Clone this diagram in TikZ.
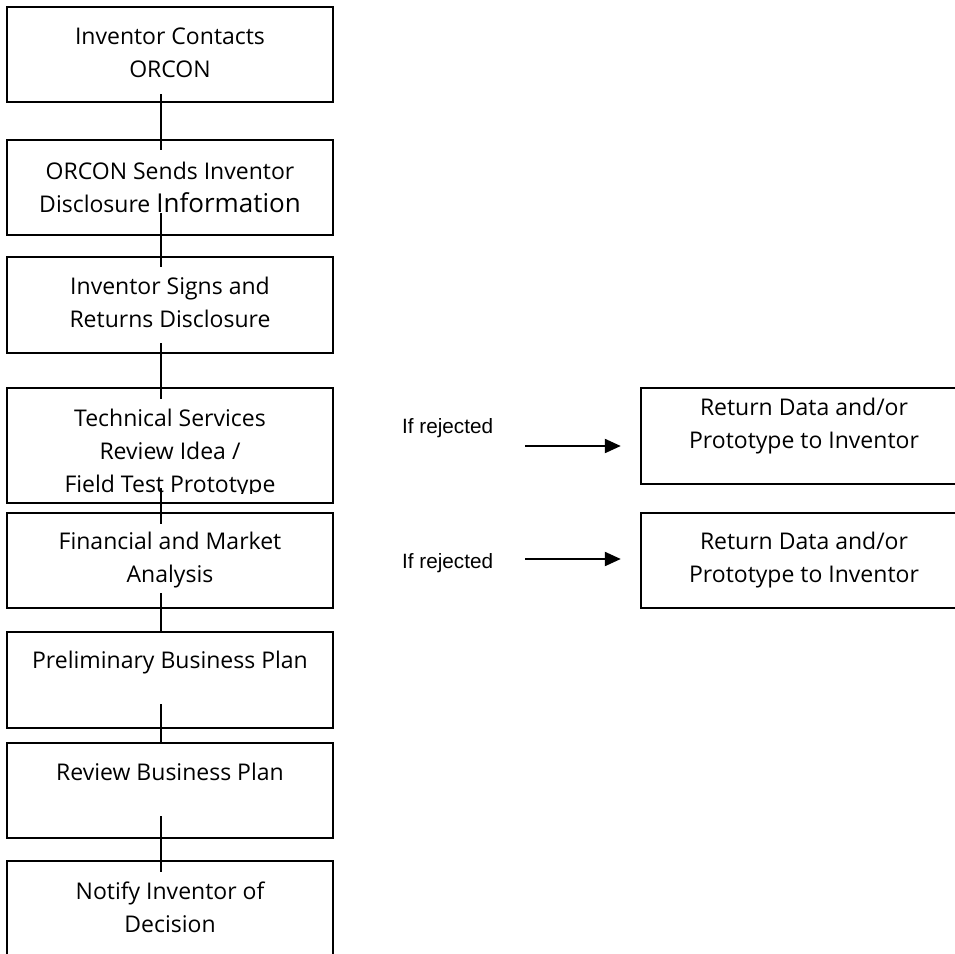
\documentclass[tikz,border=0pt]{standalone}
\usepackage{fontspec}
\newfontfamily\kastenfont{Open Sans}
\newfontfamily\notizfont{Liberation Sans}
\usetikzlibrary{arrows.meta}
\tikzset{
	kasten/.style={draw=black, line width=2.4pt, minimum width=326pt, inner sep=0pt},
	ktext/.style={anchor=base, align=center, inner sep=0pt,
		font=\kastenfont\fontsize{23}{33}\selectfont},
	notiz/.style={anchor=base west, inner sep=0pt,
		font=\notizfont\fontsize{20.7}{24}\selectfont},
	verbinder/.style={line width=2.6pt},
	pfeil/.style={line width=2.2pt, -{Triangle[length=16pt, width=14pt]}}
}
\begin{document}
\begin{tikzpicture}[x=1pt, y=-1pt]
	\clip (0,0) rectangle (955,953);
	% Kaesten links (Grundlinie der letzten Zeile)
	\node[kasten, minimum height=95pt] (b1) at (170, 54.5) {};
	\node[ktext] (t1) at (170, 77) {Inventor Contacts\\ORCON};
	\node[kasten, minimum height=95pt] (b2) at (170, 187.5) {};
	\node[ktext] (t2) at (170, 212) {ORCON Sends Inventor\\Disclosure
	{\fontsize{26}{34}\selectfont Information}};
	\node[kasten, minimum height=96pt] (b3) at (170, 305) {};
	\node[ktext] (t3) at (170, 327) {Inventor Signs and\\Returns Disclosure};
	\node[kasten, minimum height=115pt] (b4) at (170, 445.5) {};
	\begin{scope}
		\clip (7, 388) rectangle (333, 493.5);
		\node[ktext] (t4) at (170, 492) {Technical Services\\Review Idea /\\Field
		Test Prototype};
	\end{scope}
	\node[kasten, minimum height=95pt] (b5) at (170, 560.5) {};
	\node[ktext] (t5) at (170, 582) {Financial and Market\\Analysis};
	\node[kasten, minimum height=96pt] (b6) at (170, 680) {};
	\node[ktext] (t6) at (170, 668) {Preliminary Business Plan};
	\node[kasten, minimum height=95pt] (b7) at (170, 790.5) {};
	\node[ktext] (t7) at (170, 780) {Review Business Plan};
	\node[kasten, minimum height=139pt] (b8) at (170, 930.5) {};
	\node[ktext] (t8) at (170, 932) {Notify Inventor of\\Decision};
	% Verbindungen
	\draw[verbinder] ([xshift=-9pt, yshift=9pt]b1.south) -- ([xshift=-9pt,
	yshift=-11pt]b2.north);
	\draw[verbinder] ([xshift=-9pt, yshift=23pt]b2.south) -- ([xshift=-9pt,
	yshift=-11pt]b3.north);
	\draw[verbinder] ([xshift=-9pt, yshift=11pt]b3.south) -- ([xshift=-9pt,
	yshift=-12pt]b4.north);
	\draw[verbinder] ([xshift=-9pt, yshift=16pt]b4.south) -- ([xshift=-9pt,
	yshift=-12pt]b5.north);
	\draw[verbinder] ([xshift=-9pt, yshift=16pt]b5.south) -- ([xshift=-9pt]
	b6.north);
	\draw[verbinder] ([xshift=-9pt, yshift=25pt]b6.south) -- ([xshift=-9pt]
	b7.north);
	\draw[verbinder] ([xshift=-9pt, yshift=23pt]b7.south) -- ([xshift=-9pt,
	yshift=-12pt]b8.north);
	% Kaesten rechts
	\node[kasten, minimum height=96pt] (r1) at (804, 436) {};
	\node[ktext] (s1) at (804, 448) {Return Data and/or\\Prototype to Inventor};
	\node[kasten, minimum height=95pt] (r2) at (804, 560.5) {};
	\node[ktext] (s2) at (804, 582) {Return Data and/or\\Prototype to Inventor};
	% Abgelehnt
	\node[notiz] (n1) at (402, 433) {If rejected};
	\coordinate (p1) at (525, 446);
	\draw[pfeil] (p1) -- ([xshift=-19pt, yshift=-10pt]r1.west);
	\node[notiz] (n2) at (402, 568) {If rejected};
	\coordinate (p2) at (525, 559);
	\draw[pfeil] (p2) -- ([xshift=-19pt, yshift=1.5pt]r2.west);
\end{tikzpicture}
\end{document}
